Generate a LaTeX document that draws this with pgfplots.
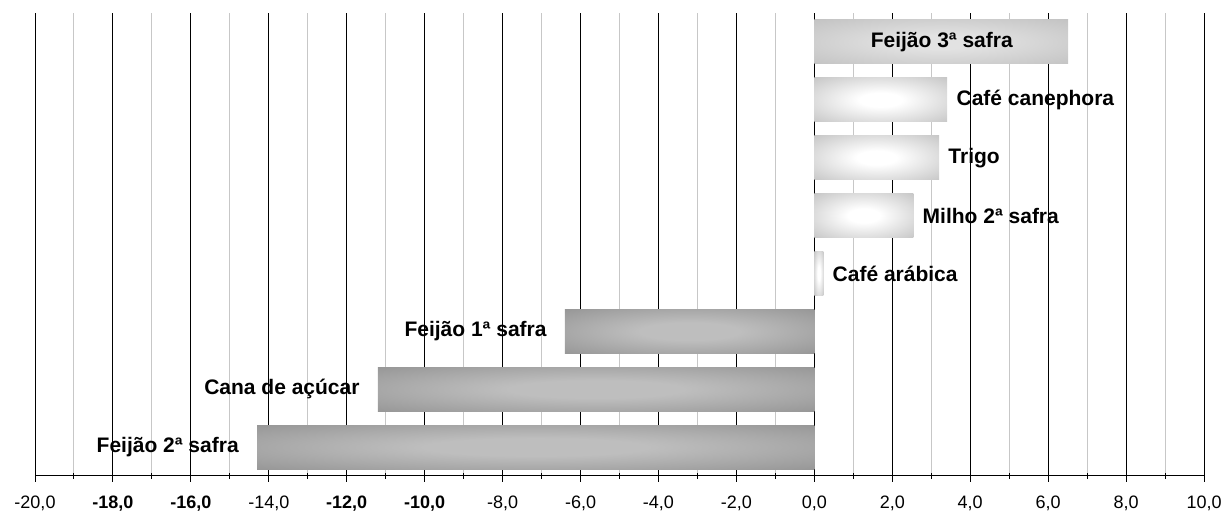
\documentclass[border=0pt]{standalone}
\usepackage{pgfplots}
\pgfplotsset{compat=1.18}
\usepackage{fontspec}
\setmainfont{Liberation Sans}

\definecolor{negout}{HTML}{8A8A8A}
\definecolor{negin}{HTML}{BEBEBE}
\definecolor{posout}{HTML}{BEBEBE}
\definecolor{posin}{HTML}{FFFFFF}
\definecolor{topout}{HTML}{C3C3C3}
\definecolor{topin}{HTML}{E2E2E2}

% centre-to-edge gradients, stretched to each bar
\pgfdeclareradialshading{negshade}{\pgfpoint{0bp}{0bp}}{color(0bp)=(negin); color(10bp)=(negin); color(44bp)=(negout); color(50bp)=(negout)}
\pgfdeclareradialshading{posshade}{\pgfpoint{0bp}{0bp}}{color(0bp)=(posin); color(8bp)=(posin); color(40bp)=(posout); color(50bp)=(posout)}
\pgfdeclareradialshading{topshade}{\pgfpoint{0bp}{0bp}}{color(0bp)=(topin); color(8bp)=(topin); color(36bp)=(topout); color(50bp)=(topout)}

\newcommand{\lblfont}{\fontsize{10.5}{12}\selectfont\bfseries}
\newcommand{\tickfont}{\fontsize{9}{10}\selectfont}

\pgfplotsset{
  onebar/.style={xbar, bar width=22pt, bar shift=0pt, draw=none, shade,
    nodes near coords, point meta=explicit symbolic},
  negbar/.style={onebar, shading=negshade,
    every node near coord/.style={anchor=east, inner sep=0pt, xshift=-9pt, font=\lblfont, text=black}},
  posbar/.style={onebar, shading=posshade,
    every node near coord/.style={anchor=west, inner sep=0pt, xshift=4.5pt, font=\lblfont, text=black}},
}

\begin{document}
\begin{tikzpicture}
\begin{axis}[
  scale only axis, width=584.5pt, height=231.5pt,
  xmin=-20, xmax=10, ymin=-0.5, ymax=7.5,
  axis x line*=bottom, axis y line=none,
  x axis line style={-, black, line width=0.5pt},
  xtick={-20,-18,...,10},
  xticklabels={{-20,0},{\textbf{-18,0}},{\textbf{-16,0}},{-14,0},{\textbf{-12,0}},{\textbf{-10,0}},{-8,0},{-6,0},{-4,0},{-2,0},{0,0},{2,0},{4,0},{6,0},{8,0},{10,0}},
  minor x tick num=1,
  xmajorgrids, xminorgrids,
  major grid style={black, line width=0.5pt},
  minor grid style={black!22, line width=0.5pt},
  tick align=center, major tick length=6pt, minor tick length=3pt,
  tick style={black, line width=0.5pt},
  xticklabel style={font=\tickfont, yshift=-3.5pt},
  ytick=\empty,
]
\addplot[negbar] coordinates {(-14.3,0) [Feijão 2ª safra]};
\addplot[negbar] coordinates {(-11.2,1) [Cana de açúcar]};
\addplot[negbar] coordinates {(-6.4,2) [Feijão 1ª safra]};
\addplot[posbar] coordinates {(0.23,3) [Café arábica]};
\addplot[posbar] coordinates {(2.54,4) [Milho 2ª safra]};
\addplot[posbar] coordinates {(3.2,5) [Trigo]};
\addplot[posbar] coordinates {(3.41,6) [Café canephora]};
\addplot[onebar, shading=topshade, nodes near coords=\empty] coordinates {(6.51,7) []};
\node[font=\lblfont] at (axis cs:3.27,7) {Feijão 3ª safra};
\end{axis}
\pgfresetboundingbox
\path[use as bounding box] ([xshift=-17.5pt,yshift=-18pt]current axis.south west) rectangle ([xshift=9.5pt,yshift=6.5pt]current axis.north east);
\end{tikzpicture}
\end{document}
